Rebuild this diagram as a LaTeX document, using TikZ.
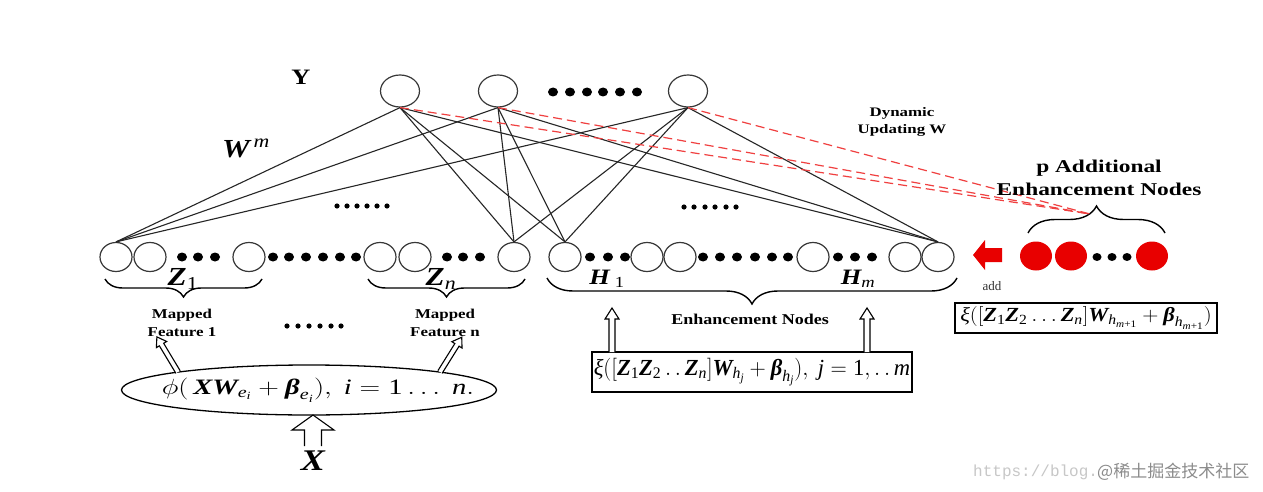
\RequirePackage{fix-cm}
\documentclass[tikz,border=0pt]{standalone}
\usepackage{amsmath}
\usepackage{fontspec}
\setmainfont{Liberation Serif}
\newfontfamily\cjkfont{Noto Sans CJK SC}
\newfontfamily\wmmono{Liberation Mono}
\usetikzlibrary{shapes.geometric,decorations.pathreplacing}
\definecolor{circ}{HTML}{383838}
\definecolor{nred}{HTML}{E80000}
\definecolor{dred}{HTML}{F04040}
\newcommand{\hs}[2][1.3]{\scalebox{#1}[1]{#2}}
\newcommand{\bi}[1]{\text{\bfseries\itshape #1}}
\newcommand{\ti}[1]{\text{\itshape #1}}
\newcommand{\tr}[1]{\text{#1}}
\tikzset{
  topn/.style={ellipse, draw=circ, line width=1.2pt, minimum width=39pt, minimum height=32pt, inner sep=0pt},
  botn/.style={ellipse, draw=circ, line width=1.2pt, minimum width=32pt, minimum height=29pt, inner sep=0pt},
  rednode/.style={ellipse, fill=nred, minimum width=32pt, minimum height=29pt, inner sep=0pt},
  link/.style={line width=1.1pt, draw=black!85},
  dlink/.style={line width=1.2pt, draw=dred, dash pattern=on 9pt off 5pt},
  brcdown/.style={decorate, decoration={brace, mirror, amplitude=#1}, line width=1.4pt},
  brcup/.style={decorate, decoration={brace, amplitude=#1}, line width=1.4pt},
  lab/.style={inner sep=0pt},
  pics/harrow/.style args={#1,#2,#3,#4}{code={
    \draw[line width=1.1pt, fill=white] (0,#2) -- (#1-#4,#2) -- (#1-#4,#3) -- (#1,0) -- (#1-#4,-#3) -- (#1-#4,-#2) -- (0,-#2);
  }},
  pics/rarrow/.style args={#1,#2,#3,#4}{code={
    \fill[nred] (0,#2) -- (#1-#4,#2) -- (#1-#4,#3) -- (#1,0) -- (#1-#4,-#3) -- (#1-#4,-#2) -- (0,-#2) -- cycle;
  }},
}
\begin{document}
\begin{tikzpicture}[x=1pt,y=-1pt]
\useasboundingbox (0,0) rectangle (1263,492);
\fill[white] (0,0) rectangle (1263,492);

% output layer
\node[topn] (Y1) at (400,91) {};
\node[topn] (Y2) at (498,91) {};
\node[topn] (Y3) at (688,91) {};
\foreach \x in {553,570,587,603,620,637} \fill (\x,92) ellipse [x radius=5pt, y radius=4.5pt];

% bottom row
\node[botn] (z11) at (116,257) {};
\node[botn] (z12) at (150,257) {};
\node[botn] (z1k) at (249,257) {};
\node[botn] (zn1) at (380,257) {};
\node[botn] (zn2) at (415,257) {};
\node[botn] (znk) at (514,257) {};
\node[botn] (h1) at (565,257) {};
\node[botn] (h2) at (647,257) {};
\node[botn] (h3) at (680,257) {};
\node[botn] (h4) at (813,257) {};
\node[botn] (hm1) at (905,257) {};
\node[botn] (hm2) at (938,257) {};
\foreach \x in {182,198,215, 273,289,306,323,340,356, 447,463,480, 590,608,625, 703,720,737,755,772,788, 838,855,872}
  \fill (\x,257) ellipse [x radius=5pt, y radius=4.5pt];

% additional nodes
\node[rednode] (r1) at (1036,256) {};
\node[rednode] (r2) at (1071,256) {};
\node[rednode] (r3) at (1152,256) {};
\foreach \x in {1097,1112,1127} \fill (\x,257) ellipse [x radius=4.5pt, y radius=4pt];

% small dots
\foreach \x in {337,347,357,367,377,387} \fill (\x,206) circle [radius=2.6pt];
\foreach \x in {684,694,705,715,726,736} \fill (\x,207) circle [radius=2.6pt];
\foreach \x in {287,298,309,320,331,341} \fill (\x,326) circle [radius=2.6pt];

% links
\foreach \t in {Y1,Y2,Y3}
  \foreach \b in {z11,znk,h1,hm2}
    \draw[link] (\t.south) -- (\b.north);

% braces
\draw[brcdown=18pt] (105,279) -- (262,279);
\draw[brcdown=18pt] (368,279) -- (525,279);
\draw[brcdown=26pt] (547,278) -- (957,278);
\draw[brcup=27pt] (1028,233) -- (1165,233);
\coordinate (tip) at (1090,214);
\foreach \t in {Y1,Y2,Y3} \draw[dlink] (\t.south) -- (tip);

% labels
\node[lab] (ylab) at (301,77) {\fontsize{22}{22}\selectfont\bfseries\hs[1.2]{Y}};
\node[lab] (wlab) at (246,148) {\fontsize{26}{26}\selectfont\hs[1.2]{$\bi{W}^{\,\ti{m}}$}};
\node[lab] (z1lab) at (183,279) {\fontsize{26}{26}\selectfont\hs[1.2]{$\bi{Z}_{\tr{1}}$}};
\node[lab] (znlab) at (441,279) {\fontsize{26}{26}\selectfont\hs[1.2]{$\bi{Z}_{\ti{n}}$}};
\node[lab] (h1lab) at (607,279) {\fontsize{22}{22}\selectfont\hs[1.2]{$\bi{H}_{\;\tr{1}}$}};
\node[lab] (hmlab) at (858,279) {\fontsize{22}{22}\selectfont\hs[1.2]{$\bi{H}_{\ti{m}}$}};
\node[lab] (dyn) at (902,122) {\fontsize{13}{17}\selectfont\bfseries\hs[1.3]{\begin{tabular}{@{}c@{}}Dynamic\\Updating W\end{tabular}}};
\node[lab] (padd) at (1099,179) {\fontsize{18}{23}\selectfont\bfseries\hs[1.3]{\begin{tabular}{@{}c@{}}p Additional\\Enhancement Nodes\end{tabular}}};
\node[lab] (mf1) at (182,324) {\fontsize{13.5}{18}\selectfont\bfseries\hs[1.25]{\begin{tabular}{@{}c@{}}Mapped\\Feature 1\end{tabular}}};
\node[lab] (mfn) at (445,324) {\fontsize{13.5}{18}\selectfont\bfseries\hs[1.25]{\begin{tabular}{@{}c@{}}Mapped\\Feature n\end{tabular}}};
\node[lab] (enh) at (750,319) {\fontsize{15}{15}\selectfont\bfseries\hs[1.2]{Enhancement Nodes}};
\node[lab, text=black!80] (addlab) at (992,286) {\fontsize{13}{13}\selectfont add};

% mapping ellipse
\node[ellipse, draw, line width=1.3pt, minimum width=375pt, minimum height=50pt, inner sep=0pt] (phibox) at (309,390) {};
\node[lab] (phitext) at (318,390) {\fontsize{22}{22}\selectfont\hs[1.3]{$\phi(\,\bi{XW}_{\ti{e}_{\ti{i}}}+\bi{β}_{\ti{e}_{\ti{i}}}),\ \ti{i}=\tr{1}\ldots\ \ti{n}.$}};
\node[lab] (xlab) at (313,461) {\fontsize{30}{30}\selectfont\hs[1.2]{\bi{X}}};

% enhancement box
\node[draw, line width=1.4pt, minimum width=320pt, minimum height=40pt, inner sep=0pt] (ebox) at (752,372) {\fontsize{23}{23}\selectfont\hs[0.98]{$\ti{ξ}([\bi{Z}_{\tr{1}}\bi{Z}_{\tr{2}}\,.\,.\,\bi{Z}_{\ti{n}}]\bi{W}_{\ti{h}_{\ti{j}}}+\bi{β}_{\ti{h}_{\ti{j}}}),\ \ti{j}=\tr{1},.\,.\,\ti{m}$}};
% additional box
\node[draw, line width=1.4pt, minimum width=262pt, minimum height=30pt, inner sep=0pt] (abox) at (1086,318) {\fontsize{20}{20}\selectfont\hs[1.12]{$\ti{ξ}([\bi{Z}_{\tr{1}}\bi{Z}_{\tr{2}}\ldots\bi{Z}_{\ti{n}}]\bi{W}_{\ti{h}_{\ti{m}\tr{+1}}}+\bi{β}_{\ti{h}_{\ti{m}\tr{+1}}})$}};

% hollow arrows
\pic[rotate=121] at (178,372) {harrow={41,2.5,6,9}};
\pic[rotate=58] at (440,372) {harrow={41,2.5,6,9}};
\pic[rotate=90] at (612,352) {harrow={44,3,7,11}};
\pic[rotate=90] at (867,352) {harrow={44,3,7,11}};
\pic[rotate=90] at (313,446) {harrow={31,8.5,21,15}};
\pic[rotate=180] at (1002,255) {rarrow={29,7,15,12}};

% watermark
\node[lab, anchor=west, text=black!22] (wm1) at (973,472) {\fontsize{16}{16}\selectfont\wmmono https://blog.};
\node[lab, anchor=west, text=black!45] (wm2) at (1097,472) {\fontsize{17}{17}\selectfont\cjkfont @稀土掘金技术社区};
\end{tikzpicture}
\end{document}
